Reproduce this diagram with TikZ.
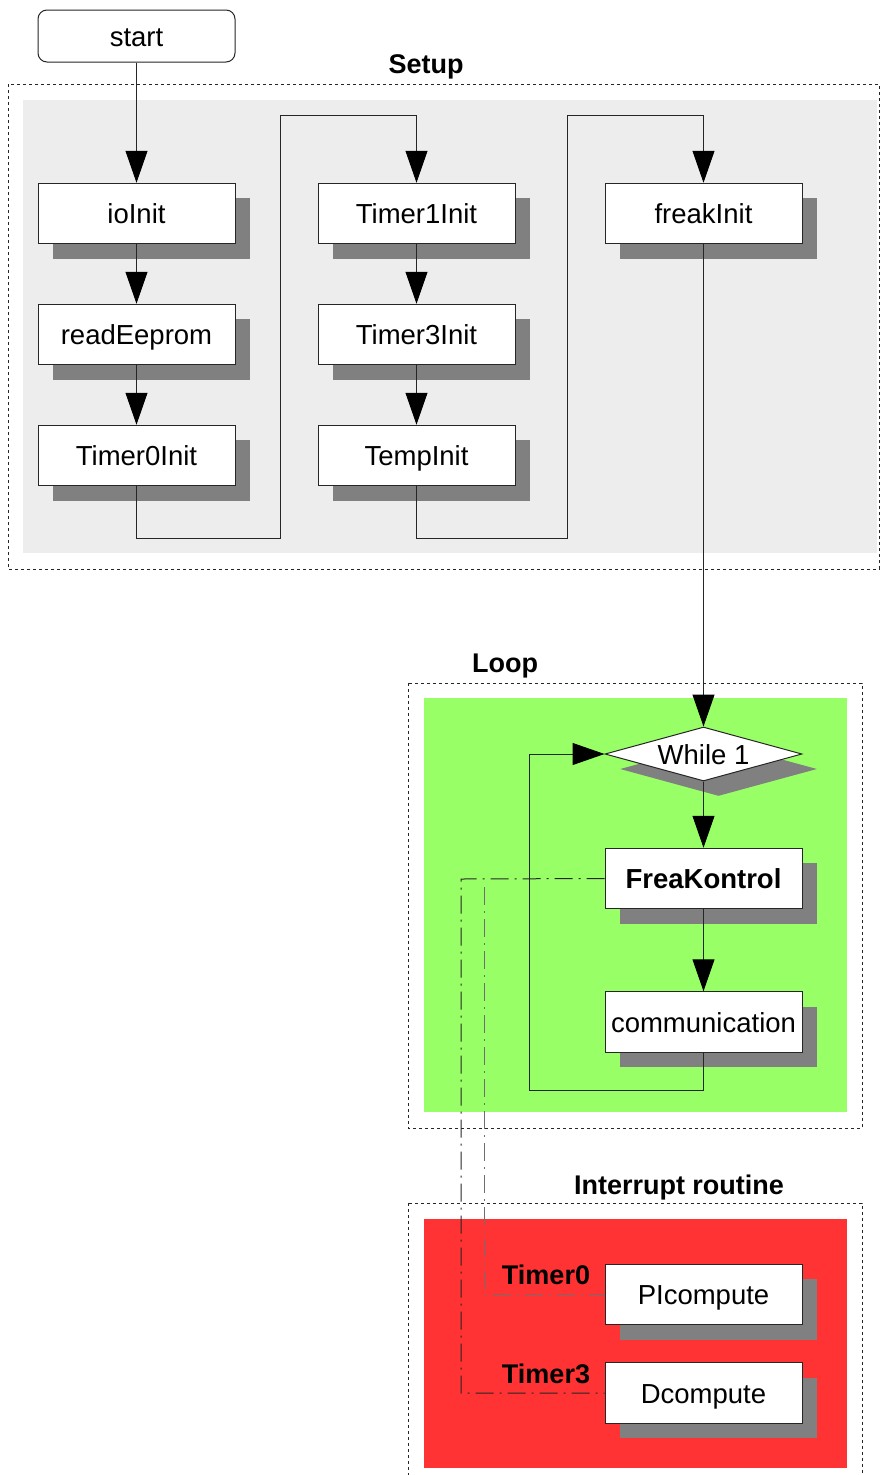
\documentclass[tikz,border=0pt]{standalone}
\usepackage{fontspec}
\setmainfont{Liberation Sans}
\usetikzlibrary{arrows.meta,shapes.geometric,shadows}
\definecolor{setupbg}{HTML}{EDEDED}
\definecolor{loopbg}{HTML}{99FF66}
\definecolor{intbg}{HTML}{FF3333}
\definecolor{shadowgray}{HTML}{808080}
\definecolor{linegray}{HTML}{262626}
\definecolor{irqgray}{HTML}{6E6E6E}
\begin{document}
\begin{tikzpicture}[x=1pt,y=-1pt,
  font=\fontsize{27.5}{33}\selectfont,
  shad/.style={drop shadow={shadow xshift=15pt,shadow yshift=-15pt,opacity=1,fill=shadowgray}},
  proc/.style={draw=linegray, line width=1pt, fill=white, minimum width=197pt, minimum height=60.5pt, inner sep=0pt, text height=20pt, text depth=0pt, shad},
  decision/.style={diamond, draw=linegray, line width=1pt, fill=white, aspect=3.65, minimum width=197pt, minimum height=54pt, inner sep=0pt, text height=20pt, text depth=0pt, shad},
  startbox/.style={draw=linegray, line width=1pt, fill=white, rounded corners=9pt, minimum width=197pt, minimum height=52pt, inner sep=0pt, text height=20pt, text depth=0pt},
  frame/.style={draw=linegray, line width=0.8pt, dash pattern=on 3pt off 3pt},
  title/.style={font=\fontsize{27}{33}\selectfont\bfseries, inner sep=0pt, text height=20pt, text depth=0pt},
  arr/.style={draw=linegray, line width=1pt, -{Triangle[width=22pt,length=32pt,color=black]}},
  irq/.style={draw=#1, line width=1pt, dash pattern=on 18pt off 6pt on 2pt off 6pt},
  irq/.default=linegray
]
\useasboundingbox (0,0) rectangle (880,1475);
\clip (0,0) rectangle (880,1475);
% backgrounds
\fill[setupbg] (23,100) rectangle (877,553);
\draw[frame] (8,84) rectangle (879,569);
\fill[loopbg] (424,698) rectangle (847,1112);
\draw[frame] (408,683) rectangle (862,1128);
\fill[intbg] (424,1219) rectangle (847,1468);
\draw[frame] (408,1203) rectangle (862,1495);
% titles
\node[title] (tsetup) at (426,63) {Setup};
\node[title] (tloop) at (505,662) {Loop};
\node[title] (tint) at (679,1184) {Interrupt routine};
\node[title] (tt0) at (546,1274) {Timer0};
\node[title] (tt3) at (546,1373) {Timer3};
% nodes
\node[startbox] (start) at (136.5,36) {start};
\node[proc] (io) at (136.5,213.5) {ioInit};
\node[proc] (ee) at (136.5,334.5) {readEeprom};
\node[proc] (t0) at (136.5,455.5) {Timer0Init};
\node[proc] (t1) at (416.5,213.5) {Timer1Init};
\node[proc] (t3) at (416.5,334.5) {Timer3Init};
\node[proc] (tp) at (416.5,455.5) {TempInit};
\node[proc] (fi) at (703.5,213.5) {freakInit};
\node[decision] (wh) at (703.5,754) {While 1};
\node[proc] (fk) at (703.5,878.5) {\bfseries FreaKontrol};
\node[proc] (cm) at (703.5,1022) {communication};
\node[proc] (pi) at (703.5,1294.5) {PIcompute};
\node[proc] (dc) at (703.5,1393) {Dcompute};
% connectors
\draw[arr] (start) -- (io);
\draw[arr] (io) -- (ee);
\draw[arr] (ee) -- (t0);
\draw[arr] (t0.south) -- (136.5,538) -- (280,538) -- (280,115) -- (416.5,115) -- (t1.north);
\draw[arr] (t1) -- (t3);
\draw[arr] (t3) -- (tp);
\draw[arr] (tp.south) -- (416.5,538) -- (567,538) -- (567,115) -- (703.5,115) -- (fi.north);
\draw[arr] (fi) -- (wh);
\draw[arr] (wh) -- (fk);
\draw[arr] (fk) -- (cm);
\draw[arr] (cm.south) -- (703.5,1090) -- (529,1090) -- (529,754) -- (wh.west);
% interrupt links
\draw[irq] (fk.west) -- (461,879) -- (461,1393) -- (dc.west);
\coordinate (tap) at (484,887);
\draw[irq=irqgray] (tap) -- (484,1294.5) -- (pi.west);
\end{tikzpicture}
\end{document}
